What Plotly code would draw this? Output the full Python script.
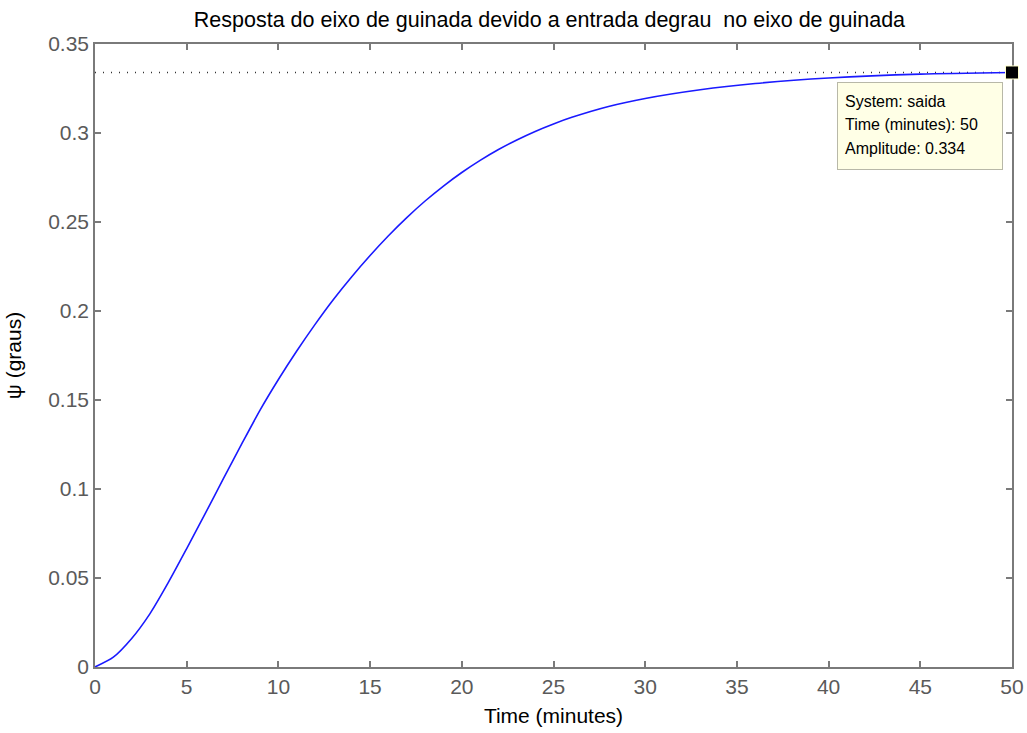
import plotly.graph_objects as go

# Step response of the yaw axis (psi) to a unit step on the yaw input
time_min = [0, 1, 2, 3, 4, 5, 6, 7, 8, 9, 10, 11, 12, 13, 14, 15, 16, 17, 18, 19,
            20, 21, 22, 23, 24, 25, 26, 28, 30, 33, 36, 40, 45, 50]
psi_graus = [0, 0.0055, 0.016, 0.030, 0.0475, 0.0665, 0.086, 0.1058, 0.1253, 0.1443,
             0.1615, 0.1775, 0.1925, 0.2065, 0.2193, 0.2312, 0.2423, 0.2525, 0.2618, 0.2702,
             0.2778, 0.2846, 0.2907, 0.2961, 0.3009, 0.3051, 0.3088, 0.3149, 0.3194, 0.3243,
             0.3278, 0.3309, 0.3331, 0.334]
steady_state = 0.334

x_ticks = [0, 5, 10, 15, 20, 25, 30, 35, 40, 45, 50]
y_ticks = [0, 0.05, 0.1, 0.15, 0.2, 0.25, 0.3, 0.35]
y_tick_text = ["0", "0.05", "0.1", "0.15", "0.2", "0.25", "0.3", "0.35"]

FONT = "Liberation Sans, Arial, sans-serif"
GREY = "#5a5a5a"

fig = go.Figure()

# steady-state reference line
fig.add_trace(go.Scatter(
    x=[time_min[0], time_min[-1]], y=[steady_state, steady_state],
    mode="lines", line=dict(color="#333333", width=1.3, dash="1px,7px"),
    hoverinfo="skip", showlegend=False))

# response curve
fig.add_trace(go.Scatter(
    x=time_min, y=psi_graus, mode="lines",
    line=dict(color="#1a1aff", width=1.6, shape="spline", smoothing=0.7),
    name="saida", showlegend=False))

# data cursor marker at the last sample
fig.add_trace(go.Scatter(
    x=[time_min[-1]], y=[psi_graus[-1]], mode="markers",
    marker=dict(symbol="square", size=13, color="black",
                line=dict(color="#ffffcc", width=1)),
    cliponaxis=False, hoverinfo="skip", showlegend=False))

# data cursor box
fig.add_annotation(
    x=time_min[-1], y=psi_graus[-1], xref="x", yref="y",
    text=" ", showarrow=False, xanchor="right", yanchor="top",
    xshift=-9, yshift=-10, width=162, height=84,
    bgcolor="#ffffe6", bordercolor="#b8b8a8", borderwidth=1, borderpad=1)

cursor_lines = ["System: saida",
                f"Time (minutes): {time_min[-1]:g}",
                f"Amplitude: {psi_graus[-1]:.3g}"]
for i, line in enumerate(cursor_lines):
    fig.add_annotation(
        x=time_min[-1], y=psi_graus[-1], xref="x", yref="y",
        text=line, showarrow=False, xanchor="left", yanchor="middle",
        xshift=-169, yshift=-29 - 23.5 * i,
        font=dict(family=FONT, size=16, color="black"))

axis_common = dict(
    showgrid=False, zeroline=False, showline=True, mirror="ticks",
    linecolor="#7a7a7a", linewidth=1.5, ticks="inside", ticklen=6,
    tickcolor="#7a7a7a", tickwidth=1.5, layer="below traces",
    automargin=False, ticklabeloverflow="allow",
    tickfont=dict(family=FONT, size=21, color=GREY))

fig.update_layout(
    width=1027, height=733,
    margin=dict(l=95, r=15, t=44, b=66),
    paper_bgcolor="white", plot_bgcolor="white",
    title=dict(text="Resposta do eixo de guinada devido a entrada degrau  no eixo de guinada",
               x=0.535, xanchor="center", y=0.973, yanchor="middle",
               font=dict(family=FONT, size=21.5, color="black")),
    xaxis=dict(range=[0, 50], tickvals=x_ticks,
               title=dict(text="Time (minutes)", standoff=11,
                          font=dict(family=FONT, size=21, color="black")),
               **axis_common),
    yaxis=dict(range=[0, 0.35], tickvals=y_ticks, ticktext=y_tick_text,
               title=dict(text="ψ (graus)", standoff=21,
                          font=dict(family=FONT, size=21, color="black")),
               **axis_common),
)

fig.write_html("out.html")
